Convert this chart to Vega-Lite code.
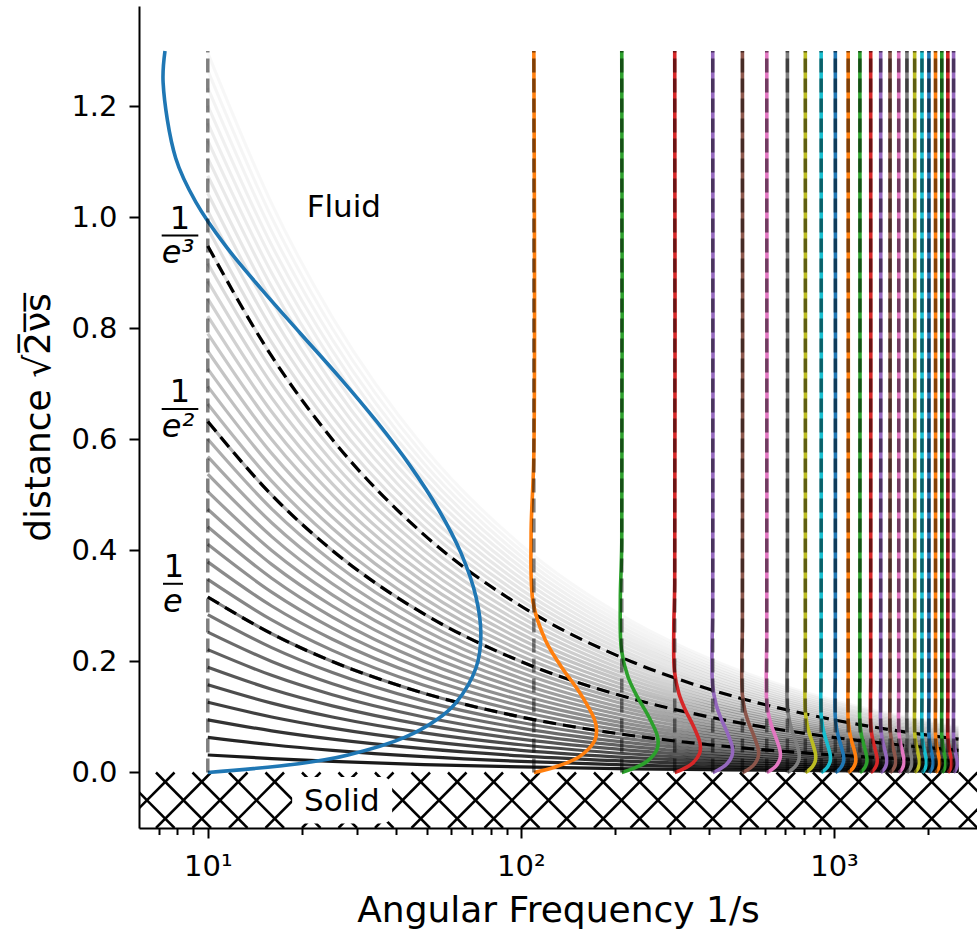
{
"$schema":"https://vega.github.io/schema/vega-lite/v6.json",
"width":838,"height":822,
"autosize":{"type":"none"},
"padding":{"left":139,"top":6,"right":0,"bottom":102},
"config":{"view":{"stroke":null},"font":"DejaVu Sans",
"axis":{"grid":false,"domain":true,"domainColor":"black","domainWidth":2,"tickColor":"black","tickWidth":2,"tickSize":10,"labelColor":"black","titleColor":"black","labelFont":"DejaVu Sans","titleFont":"DejaVu Sans","labelFontSize":29,"titleFontSize":36,"titleFontWeight":"normal"}},
"datasets":{
"gray":[
{"k":1,"x":10,"y":0.0316},{"k":1,"x":16,"y":0.025},{"k":1,"x":25,"y":0.02},{"k":1,"x":49,"y":0.0143},{"k":1,"x":100,"y":0.01},{"k":1,"x":225,"y":0.0067},{"k":1,"x":400,"y":0.005},{"k":1,"x":900,"y":0.0033},{"k":1,"x":1600,"y":0.0025},{"k":1,"x":2500,"y":0.002},
{"k":2,"x":10,"y":0.0632},{"k":2,"x":16,"y":0.05},{"k":2,"x":25,"y":0.04},{"k":2,"x":49,"y":0.0286},{"k":2,"x":100,"y":0.02},{"k":2,"x":225,"y":0.0133},{"k":2,"x":400,"y":0.01},{"k":2,"x":900,"y":0.0067},{"k":2,"x":1600,"y":0.005},{"k":2,"x":2500,"y":0.004},
{"k":3,"x":10,"y":0.0949},{"k":3,"x":16,"y":0.075},{"k":3,"x":25,"y":0.06},{"k":3,"x":49,"y":0.0429},{"k":3,"x":100,"y":0.03},{"k":3,"x":225,"y":0.02},{"k":3,"x":400,"y":0.015},{"k":3,"x":900,"y":0.01},{"k":3,"x":1600,"y":0.0075},{"k":3,"x":2500,"y":0.006},
{"k":4,"x":10,"y":0.1265},{"k":4,"x":16,"y":0.1},{"k":4,"x":25,"y":0.08},{"k":4,"x":49,"y":0.0571},{"k":4,"x":100,"y":0.04},{"k":4,"x":225,"y":0.0267},{"k":4,"x":400,"y":0.02},{"k":4,"x":900,"y":0.0133},{"k":4,"x":1600,"y":0.01},{"k":4,"x":2500,"y":0.008},
{"k":5,"x":10,"y":0.1581},{"k":5,"x":16,"y":0.125},{"k":5,"x":25,"y":0.1},{"k":5,"x":49,"y":0.0714},{"k":5,"x":100,"y":0.05},{"k":5,"x":225,"y":0.0333},{"k":5,"x":400,"y":0.025},{"k":5,"x":900,"y":0.0167},{"k":5,"x":1600,"y":0.0125},{"k":5,"x":2500,"y":0.01},
{"k":6,"x":10,"y":0.1897},{"k":6,"x":16,"y":0.15},{"k":6,"x":25,"y":0.12},{"k":6,"x":49,"y":0.0857},{"k":6,"x":100,"y":0.06},{"k":6,"x":225,"y":0.04},{"k":6,"x":400,"y":0.03},{"k":6,"x":900,"y":0.02},{"k":6,"x":1600,"y":0.015},{"k":6,"x":2500,"y":0.012},
{"k":7,"x":10,"y":0.2214},{"k":7,"x":16,"y":0.175},{"k":7,"x":25,"y":0.14},{"k":7,"x":49,"y":0.1},{"k":7,"x":100,"y":0.07},{"k":7,"x":225,"y":0.0467},{"k":7,"x":400,"y":0.035},{"k":7,"x":900,"y":0.0233},{"k":7,"x":1600,"y":0.0175},{"k":7,"x":2500,"y":0.014},
{"k":8,"x":10,"y":0.253},{"k":8,"x":16,"y":0.2},{"k":8,"x":25,"y":0.16},{"k":8,"x":49,"y":0.1143},{"k":8,"x":100,"y":0.08},{"k":8,"x":225,"y":0.0533},{"k":8,"x":400,"y":0.04},{"k":8,"x":900,"y":0.0267},{"k":8,"x":1600,"y":0.02},{"k":8,"x":2500,"y":0.016},
{"k":9,"x":10,"y":0.2846},{"k":9,"x":16,"y":0.225},{"k":9,"x":25,"y":0.18},{"k":9,"x":49,"y":0.1286},{"k":9,"x":100,"y":0.09},{"k":9,"x":225,"y":0.06},{"k":9,"x":400,"y":0.045},{"k":9,"x":900,"y":0.03},{"k":9,"x":1600,"y":0.0225},{"k":9,"x":2500,"y":0.018},
{"k":10,"x":10,"y":0.3162},{"k":10,"x":16,"y":0.25},{"k":10,"x":25,"y":0.2},{"k":10,"x":49,"y":0.1429},{"k":10,"x":100,"y":0.1},{"k":10,"x":225,"y":0.0667},{"k":10,"x":400,"y":0.05},{"k":10,"x":900,"y":0.0333},{"k":10,"x":1600,"y":0.025},{"k":10,"x":2500,"y":0.02},
{"k":11,"x":10,"y":0.3479},{"k":11,"x":16,"y":0.275},{"k":11,"x":25,"y":0.22},{"k":11,"x":49,"y":0.1571},{"k":11,"x":100,"y":0.11},{"k":11,"x":225,"y":0.0733},{"k":11,"x":400,"y":0.055},{"k":11,"x":900,"y":0.0367},{"k":11,"x":1600,"y":0.0275},{"k":11,"x":2500,"y":0.022},
{"k":12,"x":10,"y":0.3795},{"k":12,"x":16,"y":0.3},{"k":12,"x":25,"y":0.24},{"k":12,"x":49,"y":0.1714},{"k":12,"x":100,"y":0.12},{"k":12,"x":225,"y":0.08},{"k":12,"x":400,"y":0.06},{"k":12,"x":900,"y":0.04},{"k":12,"x":1600,"y":0.03},{"k":12,"x":2500,"y":0.024},
{"k":13,"x":10,"y":0.4111},{"k":13,"x":16,"y":0.325},{"k":13,"x":25,"y":0.26},{"k":13,"x":49,"y":0.1857},{"k":13,"x":100,"y":0.13},{"k":13,"x":225,"y":0.0867},{"k":13,"x":400,"y":0.065},{"k":13,"x":900,"y":0.0433},{"k":13,"x":1600,"y":0.0325},{"k":13,"x":2500,"y":0.026},
{"k":14,"x":10,"y":0.4427},{"k":14,"x":16,"y":0.35},{"k":14,"x":25,"y":0.28},{"k":14,"x":49,"y":0.2},{"k":14,"x":100,"y":0.14},{"k":14,"x":225,"y":0.0933},{"k":14,"x":400,"y":0.07},{"k":14,"x":900,"y":0.0467},{"k":14,"x":1600,"y":0.035},{"k":14,"x":2500,"y":0.028},
{"k":15,"x":10,"y":0.4743},{"k":15,"x":16,"y":0.375},{"k":15,"x":25,"y":0.3},{"k":15,"x":49,"y":0.2143},{"k":15,"x":100,"y":0.15},{"k":15,"x":225,"y":0.1},{"k":15,"x":400,"y":0.075},{"k":15,"x":900,"y":0.05},{"k":15,"x":1600,"y":0.0375},{"k":15,"x":2500,"y":0.03},
{"k":16,"x":10,"y":0.506},{"k":16,"x":16,"y":0.4},{"k":16,"x":25,"y":0.32},{"k":16,"x":49,"y":0.2286},{"k":16,"x":100,"y":0.16},{"k":16,"x":225,"y":0.1067},{"k":16,"x":400,"y":0.08},{"k":16,"x":900,"y":0.0533},{"k":16,"x":1600,"y":0.04},{"k":16,"x":2500,"y":0.032},
{"k":17,"x":10,"y":0.5376},{"k":17,"x":16,"y":0.425},{"k":17,"x":25,"y":0.34},{"k":17,"x":49,"y":0.2429},{"k":17,"x":100,"y":0.17},{"k":17,"x":225,"y":0.1133},{"k":17,"x":400,"y":0.085},{"k":17,"x":900,"y":0.0567},{"k":17,"x":1600,"y":0.0425},{"k":17,"x":2500,"y":0.034},
{"k":18,"x":10,"y":0.5692},{"k":18,"x":16,"y":0.45},{"k":18,"x":25,"y":0.36},{"k":18,"x":49,"y":0.2571},{"k":18,"x":100,"y":0.18},{"k":18,"x":225,"y":0.12},{"k":18,"x":400,"y":0.09},{"k":18,"x":900,"y":0.06},{"k":18,"x":1600,"y":0.045},{"k":18,"x":2500,"y":0.036},
{"k":19,"x":10,"y":0.6008},{"k":19,"x":16,"y":0.475},{"k":19,"x":25,"y":0.38},{"k":19,"x":49,"y":0.2714},{"k":19,"x":100,"y":0.19},{"k":19,"x":225,"y":0.1267},{"k":19,"x":400,"y":0.095},{"k":19,"x":900,"y":0.0633},{"k":19,"x":1600,"y":0.0475},{"k":19,"x":2500,"y":0.038},
{"k":20,"x":10,"y":0.6325},{"k":20,"x":16,"y":0.5},{"k":20,"x":25,"y":0.4},{"k":20,"x":49,"y":0.2857},{"k":20,"x":100,"y":0.2},{"k":20,"x":225,"y":0.1333},{"k":20,"x":400,"y":0.1},{"k":20,"x":900,"y":0.0667},{"k":20,"x":1600,"y":0.05},{"k":20,"x":2500,"y":0.04},
{"k":21,"x":10,"y":0.6641},{"k":21,"x":16,"y":0.525},{"k":21,"x":25,"y":0.42},{"k":21,"x":49,"y":0.3},{"k":21,"x":100,"y":0.21},{"k":21,"x":225,"y":0.14},{"k":21,"x":400,"y":0.105},{"k":21,"x":900,"y":0.07},{"k":21,"x":1600,"y":0.0525},{"k":21,"x":2500,"y":0.042},
{"k":22,"x":10,"y":0.6957},{"k":22,"x":16,"y":0.55},{"k":22,"x":25,"y":0.44},{"k":22,"x":49,"y":0.3143},{"k":22,"x":100,"y":0.22},{"k":22,"x":225,"y":0.1467},{"k":22,"x":400,"y":0.11},{"k":22,"x":900,"y":0.0733},{"k":22,"x":1600,"y":0.055},{"k":22,"x":2500,"y":0.044},
{"k":23,"x":10,"y":0.7273},{"k":23,"x":16,"y":0.575},{"k":23,"x":25,"y":0.46},{"k":23,"x":49,"y":0.3286},{"k":23,"x":100,"y":0.23},{"k":23,"x":225,"y":0.1533},{"k":23,"x":400,"y":0.115},{"k":23,"x":900,"y":0.0767},{"k":23,"x":1600,"y":0.0575},{"k":23,"x":2500,"y":0.046},
{"k":24,"x":10,"y":0.759},{"k":24,"x":16,"y":0.6},{"k":24,"x":25,"y":0.48},{"k":24,"x":49,"y":0.3429},{"k":24,"x":100,"y":0.24},{"k":24,"x":225,"y":0.16},{"k":24,"x":400,"y":0.12},{"k":24,"x":900,"y":0.08},{"k":24,"x":1600,"y":0.06},{"k":24,"x":2500,"y":0.048},
{"k":25,"x":10,"y":0.7906},{"k":25,"x":16,"y":0.625},{"k":25,"x":25,"y":0.5},{"k":25,"x":49,"y":0.3571},{"k":25,"x":100,"y":0.25},{"k":25,"x":225,"y":0.1667},{"k":25,"x":400,"y":0.125},{"k":25,"x":900,"y":0.0833},{"k":25,"x":1600,"y":0.0625},{"k":25,"x":2500,"y":0.05},
{"k":26,"x":10,"y":0.8222},{"k":26,"x":16,"y":0.65},{"k":26,"x":25,"y":0.52},{"k":26,"x":49,"y":0.3714},{"k":26,"x":100,"y":0.26},{"k":26,"x":225,"y":0.1733},{"k":26,"x":400,"y":0.13},{"k":26,"x":900,"y":0.0867},{"k":26,"x":1600,"y":0.065},{"k":26,"x":2500,"y":0.052},
{"k":27,"x":10,"y":0.8538},{"k":27,"x":16,"y":0.675},{"k":27,"x":25,"y":0.54},{"k":27,"x":49,"y":0.3857},{"k":27,"x":100,"y":0.27},{"k":27,"x":225,"y":0.18},{"k":27,"x":400,"y":0.135},{"k":27,"x":900,"y":0.09},{"k":27,"x":1600,"y":0.0675},{"k":27,"x":2500,"y":0.054},
{"k":28,"x":10,"y":0.8854},{"k":28,"x":16,"y":0.7},{"k":28,"x":25,"y":0.56},{"k":28,"x":49,"y":0.4},{"k":28,"x":100,"y":0.28},{"k":28,"x":225,"y":0.1867},{"k":28,"x":400,"y":0.14},{"k":28,"x":900,"y":0.0933},{"k":28,"x":1600,"y":0.07},{"k":28,"x":2500,"y":0.056},
{"k":29,"x":10,"y":0.9171},{"k":29,"x":16,"y":0.725},{"k":29,"x":25,"y":0.58},{"k":29,"x":49,"y":0.4143},{"k":29,"x":100,"y":0.29},{"k":29,"x":225,"y":0.1933},{"k":29,"x":400,"y":0.145},{"k":29,"x":900,"y":0.0967},{"k":29,"x":1600,"y":0.0725},{"k":29,"x":2500,"y":0.058},
{"k":30,"x":10,"y":0.9487},{"k":30,"x":16,"y":0.75},{"k":30,"x":25,"y":0.6},{"k":30,"x":49,"y":0.4286},{"k":30,"x":100,"y":0.3},{"k":30,"x":225,"y":0.2},{"k":30,"x":400,"y":0.15},{"k":30,"x":900,"y":0.1},{"k":30,"x":1600,"y":0.075},{"k":30,"x":2500,"y":0.06},
{"k":31,"x":10,"y":0.9803},{"k":31,"x":16,"y":0.775},{"k":31,"x":25,"y":0.62},{"k":31,"x":49,"y":0.4429},{"k":31,"x":100,"y":0.31},{"k":31,"x":225,"y":0.2067},{"k":31,"x":400,"y":0.155},{"k":31,"x":900,"y":0.1033},{"k":31,"x":1600,"y":0.0775},{"k":31,"x":2500,"y":0.062},
{"k":32,"x":10,"y":1.0119},{"k":32,"x":16,"y":0.8},{"k":32,"x":25,"y":0.64},{"k":32,"x":49,"y":0.4571},{"k":32,"x":100,"y":0.32},{"k":32,"x":225,"y":0.2133},{"k":32,"x":400,"y":0.16},{"k":32,"x":900,"y":0.1067},{"k":32,"x":1600,"y":0.08},{"k":32,"x":2500,"y":0.064},
{"k":33,"x":10,"y":1.0436},{"k":33,"x":16,"y":0.825},{"k":33,"x":25,"y":0.66},{"k":33,"x":49,"y":0.4714},{"k":33,"x":100,"y":0.33},{"k":33,"x":225,"y":0.22},{"k":33,"x":400,"y":0.165},{"k":33,"x":900,"y":0.11},{"k":33,"x":1600,"y":0.0825},{"k":33,"x":2500,"y":0.066},
{"k":34,"x":10,"y":1.0752},{"k":34,"x":16,"y":0.85},{"k":34,"x":25,"y":0.68},{"k":34,"x":49,"y":0.4857},{"k":34,"x":100,"y":0.34},{"k":34,"x":225,"y":0.2267},{"k":34,"x":400,"y":0.17},{"k":34,"x":900,"y":0.1133},{"k":34,"x":1600,"y":0.085},{"k":34,"x":2500,"y":0.068},
{"k":35,"x":10,"y":1.1068},{"k":35,"x":16,"y":0.875},{"k":35,"x":25,"y":0.7},{"k":35,"x":49,"y":0.5},{"k":35,"x":100,"y":0.35},{"k":35,"x":225,"y":0.2333},{"k":35,"x":400,"y":0.175},{"k":35,"x":900,"y":0.1167},{"k":35,"x":1600,"y":0.0875},{"k":35,"x":2500,"y":0.07},
{"k":36,"x":10,"y":1.1384},{"k":36,"x":16,"y":0.9},{"k":36,"x":25,"y":0.72},{"k":36,"x":49,"y":0.5143},{"k":36,"x":100,"y":0.36},{"k":36,"x":225,"y":0.24},{"k":36,"x":400,"y":0.18},{"k":36,"x":900,"y":0.12},{"k":36,"x":1600,"y":0.09},{"k":36,"x":2500,"y":0.072},
{"k":37,"x":10,"y":1.17},{"k":37,"x":16,"y":0.925},{"k":37,"x":25,"y":0.74},{"k":37,"x":49,"y":0.5286},{"k":37,"x":100,"y":0.37},{"k":37,"x":225,"y":0.2467},{"k":37,"x":400,"y":0.185},{"k":37,"x":900,"y":0.1233},{"k":37,"x":1600,"y":0.0925},{"k":37,"x":2500,"y":0.074},
{"k":38,"x":10,"y":1.2017},{"k":38,"x":16,"y":0.95},{"k":38,"x":25,"y":0.76},{"k":38,"x":49,"y":0.5429},{"k":38,"x":100,"y":0.38},{"k":38,"x":225,"y":0.2533},{"k":38,"x":400,"y":0.19},{"k":38,"x":900,"y":0.1267},{"k":38,"x":1600,"y":0.095},{"k":38,"x":2500,"y":0.076},
{"k":39,"x":10,"y":1.2333},{"k":39,"x":16,"y":0.975},{"k":39,"x":25,"y":0.78},{"k":39,"x":49,"y":0.5571},{"k":39,"x":100,"y":0.39},{"k":39,"x":225,"y":0.26},{"k":39,"x":400,"y":0.195},{"k":39,"x":900,"y":0.13},{"k":39,"x":1600,"y":0.0975},{"k":39,"x":2500,"y":0.078},
{"k":40,"x":10,"y":1.2649},{"k":40,"x":16,"y":1.0},{"k":40,"x":25,"y":0.8},{"k":40,"x":49,"y":0.5714},{"k":40,"x":100,"y":0.4},{"k":40,"x":225,"y":0.2667},{"k":40,"x":400,"y":0.2},{"k":40,"x":900,"y":0.1333},{"k":40,"x":1600,"y":0.1},{"k":40,"x":2500,"y":0.08},
{"k":41,"x":10,"y":1.2965},{"k":41,"x":16,"y":1.025},{"k":41,"x":25,"y":0.82},{"k":41,"x":49,"y":0.5857},{"k":41,"x":100,"y":0.41},{"k":41,"x":225,"y":0.2733},{"k":41,"x":400,"y":0.205},{"k":41,"x":900,"y":0.1367},{"k":41,"x":1600,"y":0.1025},{"k":41,"x":2500,"y":0.082}
],
"prof":[
{"w":10,"x":10,"y":0},{"w":10,"x":19.51,"y":0.0158},{"w":10,"x":28.06,"y":0.0316},{"w":10,"x":42.53,"y":0.0632},{"w":10,"x":53.8,"y":0.0949},{"w":10,"x":62.2,"y":0.1265},{"w":10,"x":72.0,"y":0.1897},{"w":10,"x":74.5,"y":0.2482},{"w":10,"x":71.9,"y":0.3162},{"w":10,"x":64.4,"y":0.3953},{"w":10,"x":54.5,"y":0.4743},{"w":10,"x":44.2,"y":0.5534},{"w":10,"x":34.6,"y":0.6325},{"w":10,"x":26.4,"y":0.7115},{"w":10,"x":19.8,"y":0.7906},{"w":10,"x":14.9,"y":0.8696},{"w":10,"x":11.4,"y":0.9487},{"w":10,"x":9.16,"y":1.0277},{"w":10,"x":7.9,"y":1.1068},{"w":10,"x":7.2,"y":1.2428},{"w":10,"x":7.3,"y":1.3},
{"w":110,"x":110,"y":0},{"w":110,"x":128.1,"y":0.0095},{"w":110,"x":153.8,"y":0.0286},{"w":110,"x":172,"y":0.0572},{"w":110,"x":174.5,"y":0.0763},{"w":110,"x":171.9,"y":0.0953},{"w":110,"x":154.5,"y":0.143},{"w":110,"x":134.6,"y":0.1907},{"w":110,"x":119.8,"y":0.2384},{"w":110,"x":109.5,"y":0.3051},{"w":110,"x":107.8,"y":0.4291},{"w":110,"x":110,"y":0.5721},{"w":110,"x":110,"y":1.3},
{"w":210,"x":210,"y":0},{"w":210,"x":228.1,"y":0.0069},{"w":210,"x":253.8,"y":0.0207},{"w":210,"x":272,"y":0.0414},{"w":210,"x":274.5,"y":0.0552},{"w":210,"x":271.9,"y":0.069},{"w":210,"x":254.5,"y":0.1035},{"w":210,"x":234.6,"y":0.138},{"w":210,"x":219.8,"y":0.1725},{"w":210,"x":209.5,"y":0.2208},{"w":210,"x":207.8,"y":0.3105},{"w":210,"x":210,"y":0.414},{"w":210,"x":210,"y":1.3},
{"w":310,"x":310,"y":0},{"w":310,"x":328.1,"y":0.0057},{"w":310,"x":353.8,"y":0.017},{"w":310,"x":372,"y":0.0341},{"w":310,"x":374.5,"y":0.0454},{"w":310,"x":371.9,"y":0.0568},{"w":310,"x":354.5,"y":0.0852},{"w":310,"x":334.6,"y":0.1136},{"w":310,"x":319.8,"y":0.142},{"w":310,"x":309.5,"y":0.1817},{"w":310,"x":307.8,"y":0.2556},{"w":310,"x":310,"y":0.3408},{"w":310,"x":310,"y":1.3},
{"w":410,"x":410,"y":0},{"w":410,"x":428.1,"y":0.0049},{"w":410,"x":453.8,"y":0.0148},{"w":410,"x":472,"y":0.0296},{"w":410,"x":474.5,"y":0.0395},{"w":410,"x":471.9,"y":0.0494},{"w":410,"x":454.5,"y":0.0741},{"w":410,"x":434.6,"y":0.0988},{"w":410,"x":419.8,"y":0.1235},{"w":410,"x":409.5,"y":0.158},{"w":410,"x":407.8,"y":0.2222},{"w":410,"x":410,"y":0.2963},{"w":410,"x":410,"y":1.3},
{"w":510,"x":510,"y":0},{"w":510,"x":528.1,"y":0.0044},{"w":510,"x":553.8,"y":0.0133},{"w":510,"x":572,"y":0.0266},{"w":510,"x":574.5,"y":0.0354},{"w":510,"x":571.9,"y":0.0443},{"w":510,"x":554.5,"y":0.0664},{"w":510,"x":534.6,"y":0.0886},{"w":510,"x":519.8,"y":0.1107},{"w":510,"x":509.5,"y":0.1417},{"w":510,"x":507.8,"y":0.1993},{"w":510,"x":510,"y":0.2657},{"w":510,"x":510,"y":1.3},
{"w":610,"x":610,"y":0},{"w":610,"x":628.1,"y":0.004},{"w":610,"x":653.8,"y":0.0121},{"w":610,"x":672,"y":0.0243},{"w":610,"x":674.5,"y":0.0324},{"w":610,"x":671.9,"y":0.0405},{"w":610,"x":654.5,"y":0.0607},{"w":610,"x":634.6,"y":0.081},{"w":610,"x":619.8,"y":0.1012},{"w":610,"x":609.5,"y":0.1296},{"w":610,"x":607.8,"y":0.1822},{"w":610,"x":610,"y":0.2429},{"w":610,"x":610,"y":1.3},
{"w":710,"x":710,"y":0},{"w":710,"x":728.1,"y":0.0038},{"w":710,"x":753.8,"y":0.0113},{"w":710,"x":772,"y":0.0225},{"w":710,"x":774.5,"y":0.03},{"w":710,"x":771.9,"y":0.0375},{"w":710,"x":754.5,"y":0.0563},{"w":710,"x":734.6,"y":0.0751},{"w":710,"x":719.8,"y":0.0938},{"w":710,"x":709.5,"y":0.1201},{"w":710,"x":707.8,"y":0.1689},{"w":710,"x":710,"y":0.2252},{"w":710,"x":710,"y":1.3},
{"w":810,"x":810,"y":0},{"w":810,"x":828.1,"y":0.0035},{"w":810,"x":853.8,"y":0.0105},{"w":810,"x":872,"y":0.0211},{"w":810,"x":874.5,"y":0.0281},{"w":810,"x":871.9,"y":0.0351},{"w":810,"x":854.5,"y":0.0527},{"w":810,"x":834.6,"y":0.0703},{"w":810,"x":819.8,"y":0.0878},{"w":810,"x":809.5,"y":0.1124},{"w":810,"x":807.8,"y":0.1581},{"w":810,"x":810,"y":0.2108},{"w":810,"x":810,"y":1.3},
{"w":910,"x":910,"y":0},{"w":910,"x":928.1,"y":0.0033},{"w":910,"x":953.8,"y":0.0099},{"w":910,"x":972,"y":0.0199},{"w":910,"x":974.5,"y":0.0265},{"w":910,"x":971.9,"y":0.0332},{"w":910,"x":954.5,"y":0.0497},{"w":910,"x":934.6,"y":0.0663},{"w":910,"x":919.8,"y":0.0829},{"w":910,"x":909.5,"y":0.1061},{"w":910,"x":907.8,"y":0.1492},{"w":910,"x":910,"y":0.1989},{"w":910,"x":910,"y":1.3},
{"w":1010,"x":1010,"y":0},{"w":1010,"x":1028.1,"y":0.0031},{"w":1010,"x":1053.8,"y":0.0094},{"w":1010,"x":1072,"y":0.0189},{"w":1010,"x":1074.5,"y":0.0252},{"w":1010,"x":1071.9,"y":0.0315},{"w":1010,"x":1054.5,"y":0.0472},{"w":1010,"x":1034.6,"y":0.0629},{"w":1010,"x":1019.8,"y":0.0787},{"w":1010,"x":1009.5,"y":0.1007},{"w":1010,"x":1007.8,"y":0.1416},{"w":1010,"x":1010,"y":0.1888},{"w":1010,"x":1010,"y":1.3},
{"w":1110,"x":1110,"y":0},{"w":1110,"x":1128.1,"y":0.003},{"w":1110,"x":1153.8,"y":0.009},{"w":1110,"x":1172,"y":0.018},{"w":1110,"x":1174.5,"y":0.024},{"w":1110,"x":1171.9,"y":0.03},{"w":1110,"x":1154.5,"y":0.045},{"w":1110,"x":1134.6,"y":0.06},{"w":1110,"x":1119.8,"y":0.075},{"w":1110,"x":1109.5,"y":0.096},{"w":1110,"x":1107.8,"y":0.1351},{"w":1110,"x":1110,"y":0.1801},{"w":1110,"x":1110,"y":1.3},
{"w":1210,"x":1210,"y":0},{"w":1210,"x":1228.1,"y":0.0029},{"w":1210,"x":1253.8,"y":0.0086},{"w":1210,"x":1272,"y":0.0172},{"w":1210,"x":1274.5,"y":0.023},{"w":1210,"x":1271.9,"y":0.0287},{"w":1210,"x":1254.5,"y":0.0431},{"w":1210,"x":1234.6,"y":0.0575},{"w":1210,"x":1219.8,"y":0.0719},{"w":1210,"x":1209.5,"y":0.092},{"w":1210,"x":1207.8,"y":0.1294},{"w":1210,"x":1210,"y":0.1725},{"w":1210,"x":1210,"y":1.3},
{"w":1310,"x":1310,"y":0},{"w":1310,"x":1328.1,"y":0.0028},{"w":1310,"x":1353.8,"y":0.0083},{"w":1310,"x":1372,"y":0.0166},{"w":1310,"x":1374.5,"y":0.0221},{"w":1310,"x":1371.9,"y":0.0276},{"w":1310,"x":1354.5,"y":0.0414},{"w":1310,"x":1334.6,"y":0.0553},{"w":1310,"x":1319.8,"y":0.0691},{"w":1310,"x":1309.5,"y":0.0884},{"w":1310,"x":1307.8,"y":0.1243},{"w":1310,"x":1310,"y":0.1658},{"w":1310,"x":1310,"y":1.3},
{"w":1410,"x":1410,"y":0},{"w":1410,"x":1428.1,"y":0.0027},{"w":1410,"x":1453.8,"y":0.008},{"w":1410,"x":1472,"y":0.016},{"w":1410,"x":1474.5,"y":0.0213},{"w":1410,"x":1471.9,"y":0.0266},{"w":1410,"x":1454.5,"y":0.0399},{"w":1410,"x":1434.6,"y":0.0533},{"w":1410,"x":1419.8,"y":0.0666},{"w":1410,"x":1409.5,"y":0.0852},{"w":1410,"x":1407.8,"y":0.1198},{"w":1410,"x":1410,"y":0.1598},{"w":1410,"x":1410,"y":1.3},
{"w":1510,"x":1510,"y":0},{"w":1510,"x":1528.1,"y":0.0026},{"w":1510,"x":1553.8,"y":0.0077},{"w":1510,"x":1572,"y":0.0154},{"w":1510,"x":1574.5,"y":0.0206},{"w":1510,"x":1571.9,"y":0.0257},{"w":1510,"x":1554.5,"y":0.0386},{"w":1510,"x":1534.6,"y":0.0515},{"w":1510,"x":1519.8,"y":0.0643},{"w":1510,"x":1509.5,"y":0.0823},{"w":1510,"x":1507.8,"y":0.1158},{"w":1510,"x":1510,"y":0.1544},{"w":1510,"x":1510,"y":1.3},
{"w":1610,"x":1610,"y":0},{"w":1610,"x":1628.1,"y":0.0025},{"w":1610,"x":1653.8,"y":0.0075},{"w":1610,"x":1672,"y":0.015},{"w":1610,"x":1674.5,"y":0.0199},{"w":1610,"x":1671.9,"y":0.0249},{"w":1610,"x":1654.5,"y":0.0374},{"w":1610,"x":1634.6,"y":0.0498},{"w":1610,"x":1619.8,"y":0.0623},{"w":1610,"x":1609.5,"y":0.0798},{"w":1610,"x":1607.8,"y":0.1121},{"w":1610,"x":1610,"y":0.1495},{"w":1610,"x":1610,"y":1.3},
{"w":1710,"x":1710,"y":0},{"w":1710,"x":1728.1,"y":0.0024},{"w":1710,"x":1753.8,"y":0.0073},{"w":1710,"x":1772,"y":0.0145},{"w":1710,"x":1774.5,"y":0.0193},{"w":1710,"x":1771.9,"y":0.0242},{"w":1710,"x":1754.5,"y":0.0363},{"w":1710,"x":1734.6,"y":0.0484},{"w":1710,"x":1719.8,"y":0.0605},{"w":1710,"x":1709.5,"y":0.0774},{"w":1710,"x":1707.8,"y":0.1088},{"w":1710,"x":1710,"y":0.1451},{"w":1710,"x":1710,"y":1.3},
{"w":1810,"x":1810,"y":0},{"w":1810,"x":1828.1,"y":0.0024},{"w":1810,"x":1853.8,"y":0.0071},{"w":1810,"x":1872,"y":0.0141},{"w":1810,"x":1874.5,"y":0.0188},{"w":1810,"x":1871.9,"y":0.0235},{"w":1810,"x":1854.5,"y":0.0353},{"w":1810,"x":1834.6,"y":0.047},{"w":1810,"x":1819.8,"y":0.0588},{"w":1810,"x":1809.5,"y":0.0752},{"w":1810,"x":1807.8,"y":0.1058},{"w":1810,"x":1810,"y":0.141},{"w":1810,"x":1810,"y":1.3},
{"w":1910,"x":1910,"y":0},{"w":1910,"x":1928.1,"y":0.0023},{"w":1910,"x":1953.8,"y":0.0069},{"w":1910,"x":1972,"y":0.0137},{"w":1910,"x":1974.5,"y":0.0183},{"w":1910,"x":1971.9,"y":0.0229},{"w":1910,"x":1954.5,"y":0.0343},{"w":1910,"x":1934.6,"y":0.0458},{"w":1910,"x":1919.8,"y":0.0572},{"w":1910,"x":1909.5,"y":0.0732},{"w":1910,"x":1907.8,"y":0.103},{"w":1910,"x":1910,"y":0.1373},{"w":1910,"x":1910,"y":1.3},
{"w":2010,"x":2010,"y":0},{"w":2010,"x":2028.1,"y":0.0022},{"w":2010,"x":2053.8,"y":0.0067},{"w":2010,"x":2072,"y":0.0134},{"w":2010,"x":2074.5,"y":0.0178},{"w":2010,"x":2071.9,"y":0.0223},{"w":2010,"x":2054.5,"y":0.0335},{"w":2010,"x":2034.6,"y":0.0446},{"w":2010,"x":2019.8,"y":0.0558},{"w":2010,"x":2009.5,"y":0.0714},{"w":2010,"x":2007.8,"y":0.1004},{"w":2010,"x":2010,"y":0.1338},{"w":2010,"x":2010,"y":1.3},
{"w":2110,"x":2110,"y":0},{"w":2110,"x":2128.1,"y":0.0022},{"w":2110,"x":2153.8,"y":0.0065},{"w":2110,"x":2172,"y":0.0131},{"w":2110,"x":2174.5,"y":0.0174},{"w":2110,"x":2171.9,"y":0.0218},{"w":2110,"x":2154.5,"y":0.0327},{"w":2110,"x":2134.6,"y":0.0435},{"w":2110,"x":2119.8,"y":0.0544},{"w":2110,"x":2109.5,"y":0.0697},{"w":2110,"x":2107.8,"y":0.098},{"w":2110,"x":2110,"y":0.1306},{"w":2110,"x":2110,"y":1.3},
{"w":2210,"x":2210,"y":0},{"w":2210,"x":2228.1,"y":0.0021},{"w":2210,"x":2253.8,"y":0.0064},{"w":2210,"x":2272,"y":0.0128},{"w":2210,"x":2274.5,"y":0.017},{"w":2210,"x":2271.9,"y":0.0213},{"w":2210,"x":2254.5,"y":0.0319},{"w":2210,"x":2234.6,"y":0.0425},{"w":2210,"x":2219.8,"y":0.0532},{"w":2210,"x":2209.5,"y":0.0681},{"w":2210,"x":2207.8,"y":0.0957},{"w":2210,"x":2210,"y":0.1276},{"w":2210,"x":2210,"y":1.3},
{"w":2310,"x":2310,"y":0},{"w":2310,"x":2328.1,"y":0.0021},{"w":2310,"x":2353.8,"y":0.0062},{"w":2310,"x":2372,"y":0.0125},{"w":2310,"x":2374.5,"y":0.0166},{"w":2310,"x":2371.9,"y":0.0208},{"w":2310,"x":2354.5,"y":0.0312},{"w":2310,"x":2334.6,"y":0.0416},{"w":2310,"x":2319.8,"y":0.052},{"w":2310,"x":2309.5,"y":0.0666},{"w":2310,"x":2307.8,"y":0.0936},{"w":2310,"x":2310,"y":0.1248},{"w":2310,"x":2310,"y":1.3},
{"w":2410,"x":2410,"y":0},{"w":2410,"x":2428.1,"y":0.002},{"w":2410,"x":2453.8,"y":0.0061},{"w":2410,"x":2472,"y":0.0122},{"w":2410,"x":2474.5,"y":0.0163},{"w":2410,"x":2471.9,"y":0.0204},{"w":2410,"x":2454.5,"y":0.0306},{"w":2410,"x":2434.6,"y":0.0407},{"w":2410,"x":2419.8,"y":0.0509},{"w":2410,"x":2409.5,"y":0.0652},{"w":2410,"x":2407.8,"y":0.0917},{"w":2410,"x":2410,"y":0.1222},{"w":2410,"x":2410,"y":1.3}
],
"vlines":[{"w":10},{"w":110},{"w":210},{"w":310},{"w":410},{"w":510},{"w":610},{"w":710},{"w":810},{"w":910},{"w":1010},{"w":1110},{"w":1210},{"w":1310},{"w":1410},{"w":1510},{"w":1610},{"w":1710},{"w":1810},{"w":1910},{"w":2010},{"w":2110},{"w":2210},{"w":2310},{"w":2410}],
"hatch":[{"a":3.994,"b":5.985},{"a":5.224,"b":7.828},{"a":6.833,"b":10.239},{"a":8.937,"b":13.391},{"a":11.688,"b":17.514},{"a":15.287,"b":22.908},{"a":19.994,"b":29.961},{"a":26.15,"b":39.186},{"a":34.202,"b":51.252},{"a":44.733,"b":67.032},{"a":58.506,"b":87.671},{"a":76.52,"b":114.67},{"a":100.08,"b":149.97},{"a":130.9,"b":196.15},{"a":171.2,"b":256.54},{"a":223.91,"b":335.53},{"a":292.86,"b":438.85},{"a":383.03,"b":573.96},{"a":500.96,"b":750.69},{"a":655.21,"b":981.83},{"a":856.95,"b":1284.1},{"a":1120.8,"b":1679.5},{"a":1465.9,"b":2196.6},{"a":1917.3,"b":2873.0},{"a":2507.6,"b":3757.5}],
"box":[{"x":18.6,"x2":38.8,"y":-0.008,"y2":-0.092}],
"texts":[{"t":"Fluid","x":27.2,"y":1.0},{"t":"Solid","x":26.8,"y":-0.07}],
"nums":[{"t":"1","x":8.15,"y":0.98},{"t":"1","x":8.15,"y":0.667},{"t":"1","x":7.8,"y":0.352}],
"dens":[{"t":"e³","x":8.03,"y":0.918},{"t":"e²","x":8.03,"y":0.605},{"t":"e","x":7.74,"y":0.29}],
"bars":[{"x":7.125,"x2":9.327,"y":0.9676},{"x":7.125,"x2":9.327,"y":0.655},{"x":7.194,"x2":8.334,"y":0.34}]
},
"layer":[
{"data":{"name":"hatch"},"mark":{"type":"rule","color":"black","strokeWidth":2.5,"clip":true},
 "encoding":{"x":{"field":"a","type":"quantitative","scale":{"type":"log","domain":[6.03,2863],"nice":false}},"x2":{"field":"b"},
 "y":{"datum":0,"scale":{"domain":[-0.1,1.381],"nice":false,"zero":false}},"y2":{"datum":-0.1}}},
{"data":{"name":"hatch"},"mark":{"type":"rule","color":"black","strokeWidth":2.5,"clip":true},
 "encoding":{"x":{"field":"a","type":"quantitative","scale":{"type":"log","domain":[6.03,2863],"nice":false}},"x2":{"field":"b"},
 "y":{"datum":-0.1,"scale":{"domain":[-0.1,1.381],"nice":false,"zero":false}},"y2":{"datum":0}}},
{"data":{"name":"box"},"mark":{"type":"rect","fill":"white","cornerRadius":10},
 "encoding":{"x":{"field":"x","type":"quantitative","scale":{"type":"log","domain":[6.03,2863],"nice":false}},"x2":{"field":"x2"},
 "y":{"field":"y","type":"quantitative","scale":{"domain":[-0.1,1.381],"nice":false,"zero":false}},"y2":{"field":"y2"}}},
{"mark":{"type":"rule","color":"black","strokeWidth":3},"encoding":{"y":{"datum":0}}},
{"mark":{"type":"rule","color":"black","strokeWidth":2},"encoding":{"y":{"datum":1.381}}},
{"data":{"name":"gray"},"mark":{"type":"line","interpolate":"monotone","strokeWidth":3.2,"color":"black"},
 "encoding":{"x":{"field":"x","type":"quantitative","scale":{"type":"log","domain":[6.03,2863],"nice":false},
   "axis":{"title":"Angular Frequency 1/s","values":[7,8,9,10,20,30,40,50,60,70,80,90,100,200,300,400,500,600,700,800,900,1000,2000],
   "labelExpr":"datum.value == 10 ? '10¹' : datum.value == 100 ? '10²' : datum.value == 1000 ? '10³' : ''",
   "tickDash":{"condition":{"test":"datum.value == 10 || datum.value == 100 || datum.value == 1000","value":[20,0]},"value":[6.5,20]},
   "labelOverlap":false,"labelFlush":false,"labelPadding":14,"titlePadding":12}},
 "y":{"field":"y","type":"quantitative","scale":{"domain":[-0.1,1.381],"nice":false,"zero":false},
   "axis":{"title":"distance √2̅ν̅s̅","values":[0,0.2,0.4,0.6,0.8,1.0,1.2],"format":".1f","labelPadding":12,"titlePadding":13}},
 "detail":{"field":"k"},
 "opacity":{"field":"k","type":"quantitative","scale":{"domain":[1,5,10,20,30,41],"range":[0.9,0.7,0.5,0.3,0.13,0.03]},"legend":null}}},
{"data":{"name":"gray"},"transform":[{"filter":"datum.k == 10 || datum.k == 20 || datum.k == 30"}],
 "mark":{"type":"line","interpolate":"monotone","strokeWidth":3.2,"color":"black","strokeDash":[13,7]},
 "encoding":{"x":{"field":"x","type":"quantitative","scale":{"type":"log","domain":[6.03,2863],"nice":false}},
 "y":{"field":"y","type":"quantitative","scale":{"domain":[-0.1,1.381],"nice":false,"zero":false}},"detail":{"field":"k"}}},
{"data":{"name":"prof"},"mark":{"type":"line","interpolate":"catmull-rom","strokeWidth":3.6},
 "encoding":{"x":{"field":"x","type":"quantitative","scale":{"type":"log","domain":[6.03,2863],"nice":false}},
 "y":{"field":"y","type":"quantitative","scale":{"domain":[-0.1,1.381],"nice":false,"zero":false}},
 "order":{"field":"y","type":"quantitative"},
 "color":{"field":"w","type":"nominal","legend":null,"scale":{"domain":[10,110,210,310,410,510,610,710,810,910,1010,1110,1210,1310,1410,1510,1610,1710,1810,1910,2010,2110,2210,2310,2410],
 "range":["#1f77b4","#ff7f0e","#2ca02c","#d62728","#9467bd","#8c564b","#e377c2","#7f7f7f","#bcbd22","#17becf","#1f77b4","#ff7f0e","#2ca02c","#d62728","#9467bd","#8c564b","#e377c2","#7f7f7f","#bcbd22","#17becf","#1f77b4","#ff7f0e","#2ca02c","#d62728","#9467bd"]}}}},
{"data":{"name":"vlines"},"mark":{"type":"rule","color":"black","opacity":0.5,"strokeWidth":3.5,"strokeDash":[14,6]},
 "encoding":{"x":{"field":"w","type":"quantitative","scale":{"type":"log","domain":[6.03,2863],"nice":false}},"y":{"datum":0},"y2":{"datum":1.3}}},
{"data":{"name":"bars"},"mark":{"type":"rule","color":"black","strokeWidth":2},
 "encoding":{"x":{"field":"x","type":"quantitative","scale":{"type":"log","domain":[6.03,2863],"nice":false}},"x2":{"field":"x2"},
 "y":{"field":"y","type":"quantitative","scale":{"domain":[-0.1,1.381],"nice":false,"zero":false}}}},
{"data":{"name":"texts"},"mark":{"type":"text","font":"DejaVu Sans","fontSize":31,"align":"center","baseline":"alphabetic","color":"black"},
 "encoding":{"x":{"field":"x","type":"quantitative","scale":{"type":"log","domain":[6.03,2863],"nice":false}},
 "y":{"field":"y","type":"quantitative","scale":{"domain":[-0.1,1.381],"nice":false,"zero":false}},"text":{"field":"t"}}},
{"data":{"name":"nums"},"mark":{"type":"text","font":"DejaVu Sans","fontSize":32,"align":"center","baseline":"alphabetic","color":"black"},
 "encoding":{"x":{"field":"x","type":"quantitative","scale":{"type":"log","domain":[6.03,2863],"nice":false}},
 "y":{"field":"y","type":"quantitative","scale":{"domain":[-0.1,1.381],"nice":false,"zero":false}},"text":{"field":"t"}}},
{"data":{"name":"dens"},"mark":{"type":"text","font":"DejaVu Sans","fontSize":32,"fontStyle":"italic","align":"center","baseline":"alphabetic","color":"black"},
 "encoding":{"x":{"field":"x","type":"quantitative","scale":{"type":"log","domain":[6.03,2863],"nice":false}},
 "y":{"field":"y","type":"quantitative","scale":{"domain":[-0.1,1.381],"nice":false,"zero":false}},"text":{"field":"t"}}}
]
}
